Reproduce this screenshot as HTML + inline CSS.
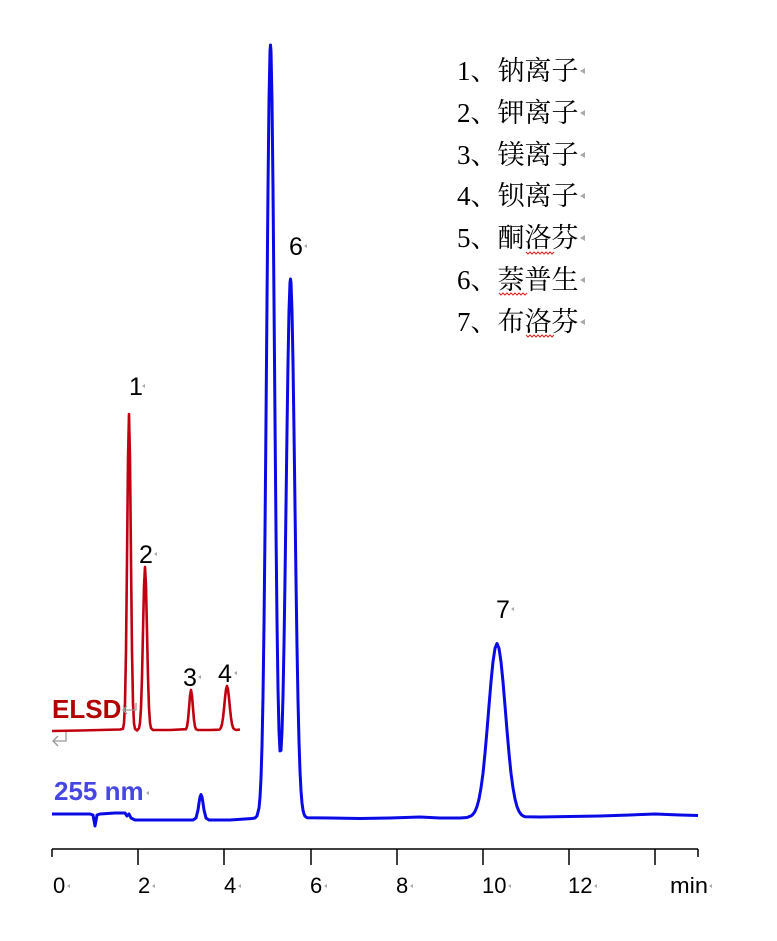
<!DOCTYPE html>
<html>
<head>
<meta charset="utf-8">
<style>
html,body{margin:0;padding:0;background:#fff;}
body{width:777px;height:941px;overflow:hidden;}
svg{display:block;}
.lg{font-family:"Liberation Serif","Noto Serif CJK SC",serif;font-size:27px;fill:#000;}
.pk{font-family:"Liberation Sans",sans-serif;font-size:25px;fill:#000;}
.tk{font-family:"Liberation Sans",sans-serif;font-size:22px;fill:#000;}
</style>
</head>
<body>
<svg width="777" height="941" viewBox="0 0 777 941" xmlns="http://www.w3.org/2000/svg">
<rect width="777" height="941" fill="#fff"/>

<!-- legend -->
<text class="lg" x="457" y="80">1、钠离子</text>
<text class="lg" x="457" y="122">2、钾离子</text>
<text class="lg" x="457" y="164">3、镁离子</text>
<text class="lg" x="457" y="205">4、钡离子</text>
<text class="lg" x="457" y="247">5、酮洛芬</text>
<text class="lg" x="457" y="289">6、萘普生</text>
<text class="lg" x="457" y="331">7、布洛芬</text>
<g fill="#aaa">
<polygon points="580,71 585,68 585,74"/>
<polygon points="580,113 585,110 585,116"/>
<polygon points="580,155 585,152 585,158"/>
<polygon points="580,196 585,193 585,199"/>
<polygon points="580,238 585,235 585,241"/>
<polygon points="580,280 585,277 585,283"/>
<polygon points="580,322 585,319 585,325"/>
</g>
<g fill="none" stroke="#e02020" stroke-width="1">
<polyline points="526,252 528,254 530,252 532,254 534,252 536,254 538,252 540,254 542,252 544,254 546,252 548,254 550,252 552,254 554,252"/>
<polyline points="499,293 501,295 503,293 505,295 507,293 509,295 511,293 513,295 515,293 517,295 519,293 521,295 523,293 525,295 527,293"/>
<polyline points="526,335 528,337 530,335 532,337 534,335 536,337 538,335 540,337 542,335 544,337 546,335 548,337 550,335 552,337 554,335"/>
</g>

<!-- blue trace (255 nm) -->
<polyline fill="none" stroke="#0a0ae6" stroke-width="3" stroke-linejoin="round" points="
52,814 70,814 90,814 93,815 95,826 97,815 100,814 115,813 125,813 127,816 129,814 131,818 135,820
160,820 190,820 193,820 196,818 198,810 199,803 200,797 201,794.5 202,797 203,803 204,810 206,818 209,820
230,820 245,819 252,818.5 255,818 257,816 259,808 260,797.4 261,778.2 262,746.1 263,696.3 264,625.2 265,532 266,421 267,301.2 268,188.5 269,100.1 270,51.3 270.5,45 271,51.3 272,100.1 273,188.4 274,300.9 275,420.2 276,530.2 277,621.3 278,688.4 279,731 280,750.9 281,750.4 282,731.6 283,695.7 284,644.2 285,579.3 286,506 287,431 288,362.8 289,310.8 290,282.6 290.5,279 291,282.6 292,310.8 293,362.8 294,431 295,506.3 296,580.1 297,646.1 298,700.2 299,741.6 300,771 301,790.7 302,802.9 303,810.1 304,814.1 305,816.2 307,817.7
330,818 360,818.5 390,818 420,817 440,818 460,818 467,817.5
469,816.7 471,815.9 473,814.3 475,811.4 477,806.6 479,799 481,787.9 483,773.3 485,753.3 487,730.4 489,705.8 491,681.9 493,661.7 495,648.3 497,643.5 499,648.3 501,661.7 503,681.9 505,705.8 507,730.4 509,753.3 511,773.3 513,787.9 515,799 517,806.6 519,811.4 521,814.3 523,815.9 525,816.7
540,817 570,816.5 600,816 630,815 655,814 680,815 698,815.5"/>

<!-- red trace (ELSD) -->
<polyline fill="none" stroke="#c00010" stroke-width="2.6" stroke-linejoin="round" points="
52,731 80,730.5 100,730 120,729.5 123,728.8 124,723.3 125,703.2 126,651.3 127,559.7 128,459.2 129,414 130,459.2 131,559.7 132,651.3 133,703.2 134,723.3 135,728.8 137,730.5
139,728.2 140,722.8 141,708 142,677.1 143,631.1 144,586.2 145,567 146,586.2 147,631.1 148,677.1 149,708 150,722.8 151,728.2 153,730
170,730 186,729.2 187,726.6 188,720 189,708.4 190,695.7 191,690 192,695.7 193,708.4 194,720 195,726.6 196,729.2 198,730
210,730 219,729.7 220,729.1 221,727.5 222,724.1 223,717.8 224,708.6 225,698.1 226,689.4 227,686 228,689.4 229,698.1 230,708.6 231,717.8 232,724.1 233,727.5 234,729.1 236,730 240,729.5"/>

<!-- peak labels -->
<text class="pk" x="129" y="395">1</text>
<text class="pk" x="139" y="563">2</text>
<text class="pk" x="183" y="686">3</text>
<text class="pk" x="218" y="682">4</text>
<text class="pk" x="289" y="255">6</text>
<text class="pk" x="496" y="618">7</text>
<g fill="#aaa">
<polygon points="142,386 145,384 145,388"/>
<polygon points="154,554 157,552 157,556"/>
<polygon points="198,677 201,675 201,679"/>
<polygon points="234,673 237,671 237,675"/>
<polygon points="304,246 307,244 307,248"/>
<polygon points="511,609 514,607 514,611"/>
</g>

<!-- series labels -->
<text x="52" y="718" font-family="Liberation Sans, sans-serif" font-size="26" font-weight="bold" fill="#b30000">ELSD</text>
<g fill="none" stroke="#999" stroke-width="1.3">
<polyline points="136,703 136,710 123,710"/>
<polyline points="127,706 123,710 127,714"/>
<polyline points="66,732 66,741 53,741"/>
<polyline points="58,736 53,741 58,746"/>
</g>
<text x="54" y="800" font-family="Liberation Sans, sans-serif" font-size="26" font-weight="bold" fill="#4646e4">255 nm</text>
<polygon points="146,793 149,791 149,795" fill="#aaa"/>

<!-- axis -->
<g stroke="#000" stroke-width="1.5">
<line x1="52" y1="849" x2="698" y2="849"/>
<line x1="52" y1="849" x2="52" y2="857"/>
<line x1="138" y1="849" x2="138" y2="865"/>
<line x1="224" y1="849" x2="224" y2="865"/>
<line x1="311" y1="849" x2="311" y2="865"/>
<line x1="397" y1="849" x2="397" y2="865"/>
<line x1="483" y1="849" x2="483" y2="865"/>
<line x1="569" y1="849" x2="569" y2="865"/>
<line x1="655" y1="849" x2="655" y2="865"/>
<line x1="698" y1="849" x2="698" y2="857"/>
</g>
<text class="tk" x="53" y="893">0</text>
<text class="tk" x="138" y="893">2</text>
<text class="tk" x="224" y="893">4</text>
<text class="tk" x="310" y="893">6</text>
<text class="tk" x="396" y="893">8</text>
<text class="tk" x="482" y="893">10</text>
<text class="tk" x="568" y="893">12</text>
<text class="tk" x="670" y="893" textLength="38" lengthAdjust="spacingAndGlyphs">min</text>
<g fill="#aaa">
<polygon points="67,886 70,884 70,888"/>
<polygon points="152,886 155,884 155,888"/>
<polygon points="238,886 241,884 241,888"/>
<polygon points="324,886 327,884 327,888"/>
<polygon points="410,886 413,884 413,888"/>
<polygon points="508,886 511,884 511,888"/>
<polygon points="594,886 597,884 597,888"/>
<polygon points="709,886 712,884 712,888"/>
</g>
</svg>
</body>
</html>
